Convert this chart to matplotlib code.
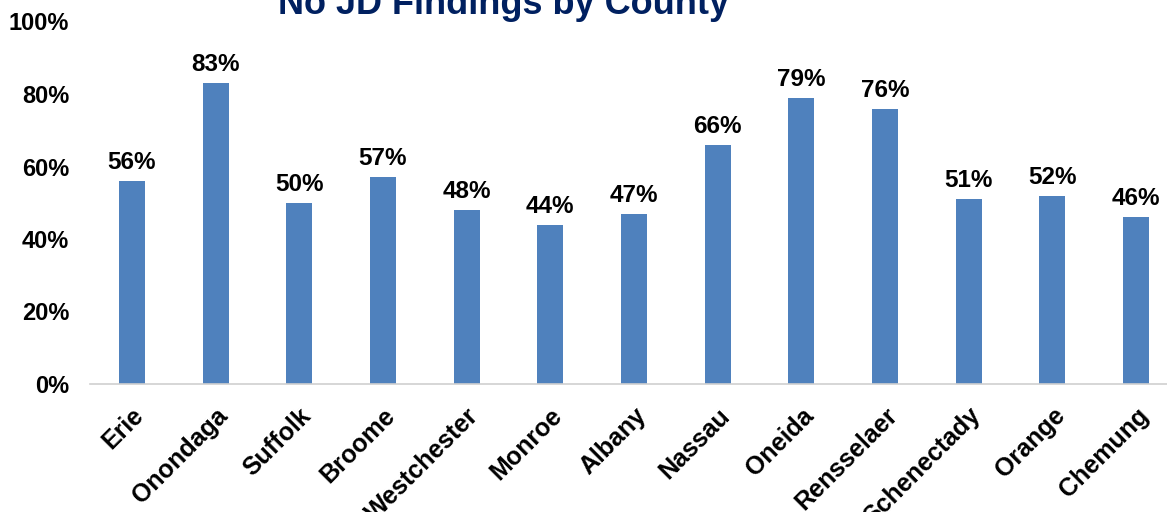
import matplotlib.pyplot as plt
import numpy as np

plt.rcParams['font.family'] = ['Liberation Sans', 'DejaVu Sans']

# data
counties = ['Erie', 'Onondaga', 'Suffolk', 'Broome', 'Westchester', 'Monroe', 'Albany',
            'Nassau', 'Oneida', 'Rensselaer', 'Schenectady', 'Orange', 'Chemung']
pct_no_findings = [56, 83, 50, 57, 48, 44, 47, 66, 79, 76, 51, 52, 46]

BAR_COLOR = '#4F81BD'
TITLE_COLOR = '#002060'

fig = plt.figure(figsize=(11.67, 5.12), dpi=100)
# axes runs off the right edge like in the original slide
ax = fig.add_axes([90 / 1167, 128 / 512, 1088 / 1167, 362.5 / 512])

x = np.arange(len(counties))
bars = ax.bar(x, pct_no_findings, width=0.31, color=BAR_COLOR)

# value labels above bars
for xi, v in zip(x, pct_no_findings):
    ax.annotate(f'{v}%', (xi, v), xytext=(0, 5), textcoords='offset points',
                ha='center', va='bottom', fontsize=17.5, fontweight='bold')

ax.set_xlim(-0.5, len(counties) - 0.5)
ax.set_ylim(0, 100)
ax.set_yticks(range(0, 101, 20))
ax.set_yticklabels([f'{t}%' for t in range(0, 101, 20)], fontsize=17, fontweight='bold')
ax.set_xticks(x)
ax.set_xticklabels(counties, rotation=45, ha='right', rotation_mode='anchor',
                   fontsize=18, fontweight='bold')
ax.tick_params(axis='both', length=0)
ax.tick_params(axis='y', pad=15)
ax.tick_params(axis='x', pad=14)

for side in ['top', 'right', 'left']:
    ax.spines[side].set_visible(False)
ax.spines['bottom'].set_color('#D0D0D0')
ax.spines['bottom'].set_linewidth(1.2)

fig.text(504 / 1167, 1 - 14 / 512, 'No JD Findings by County', ha='center', va='baseline',
         fontsize=26, fontweight='bold', color=TITLE_COLOR)

fig.savefig('out.png', dpi=100)
